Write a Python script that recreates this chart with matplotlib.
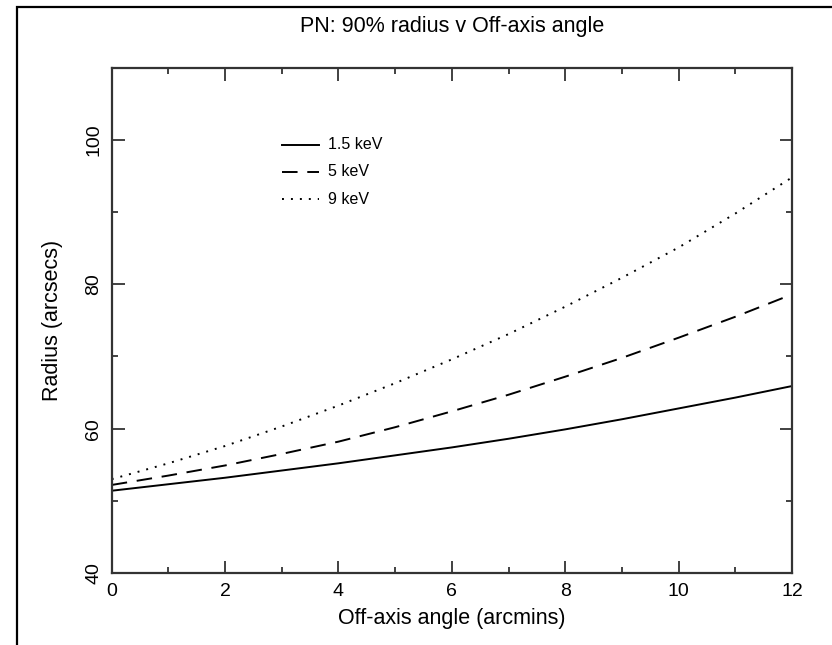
import matplotlib
matplotlib.use("Agg")
import matplotlib.pyplot as plt
from matplotlib.patches import Rectangle

# off-axis angle (arcmins) and 90% radius (arcsecs)
angle = [0, 1, 2, 3, 4, 5, 6, 7, 8, 9, 10, 11, 12]
r_1p5kev = [51.4, 52.3, 53.2, 54.2, 55.2, 56.3, 57.4, 58.6, 59.9, 61.3, 62.8, 64.3, 65.9]
r_5kev = [52.2, 53.5, 54.9, 56.5, 58.2, 60.2, 62.4, 64.7, 67.2, 69.8, 72.6, 75.5, 78.6]
r_9kev = [53.0, 55.2, 57.6, 60.3, 63.2, 66.3, 69.6, 73.1, 76.9, 80.9, 85.1, 89.8, 94.8]
labels = ["1.5 keV", "5 keV", "9 keV"]

plt.rcParams["font.family"] = ["Liberation Sans", "DejaVu Sans"]

fig = plt.figure(figsize=(8.32, 6.45), dpi=100)

# outer frame (right / bottom edges fall outside the image)
fig.patches.append(Rectangle((0.0201, -0.2), 1.3, 1.1887, transform=fig.transFigure,
                             fill=False, lw=1.6, edgecolor="black", clip_on=False))

ax = fig.add_axes([0.1343, 0.1116, 0.8176, 0.7834])

styles = ["-", (0, (8, 5)), (0, (1, 3.6))]
series = [r_1p5kev, r_5kev, r_9kev]
for vals, ls in zip(series, styles):
    ax.plot(angle, vals, color="black", lw=1.4, linestyle=ls)

# legend drawn in data space like the original
leg_y = [99.3, 95.6, 91.8]
for vals, ls, lab, y in zip(series, styles, labels, leg_y):
    ax.plot([3.0, 3.66], [y, y], color="black", lw=1.4, linestyle=ls)
    ax.text(3.82, y, lab, fontsize=11.5, va="center", ha="left")

ax.set_xlim(0, 12)
ax.set_ylim(40, 110)
ax.set_xticks([0, 2, 4, 6, 8, 10, 12])
ax.set_xticks(range(0, 13), minor=True)
ax.set_yticks([40, 60, 80, 100])
ax.set_yticks([50, 70, 90], minor=True)

ax.tick_params(which="both", direction="in", top=True, right=True,
               color="#333333", width=1.3, labelsize=14)
ax.tick_params(which="major", length=9, pad=7)
ax.tick_params(which="minor", length=4.5)
for lab in ax.get_yticklabels():
    lab.set_rotation(90)
    lab.set_va("center")

for s in ax.spines.values():
    s.set_linewidth(1.6)
    s.set_color("#333333")

ax.set_xlabel("Off-axis angle (arcmins)", fontsize=15.5)
ax.set_ylabel("Radius (arcsecs)", fontsize=15.5)
ax.xaxis.set_label_coords(0.5, -0.069)
ax.yaxis.set_label_coords(-0.0716, 0.5)

fig.text(0.5 * (0.1343 + 0.9519), 0.959, "PN: 90% radius v Off-axis angle",
         ha="center", va="center", fontsize=15.5)

fig.savefig("out.png", dpi=100)
